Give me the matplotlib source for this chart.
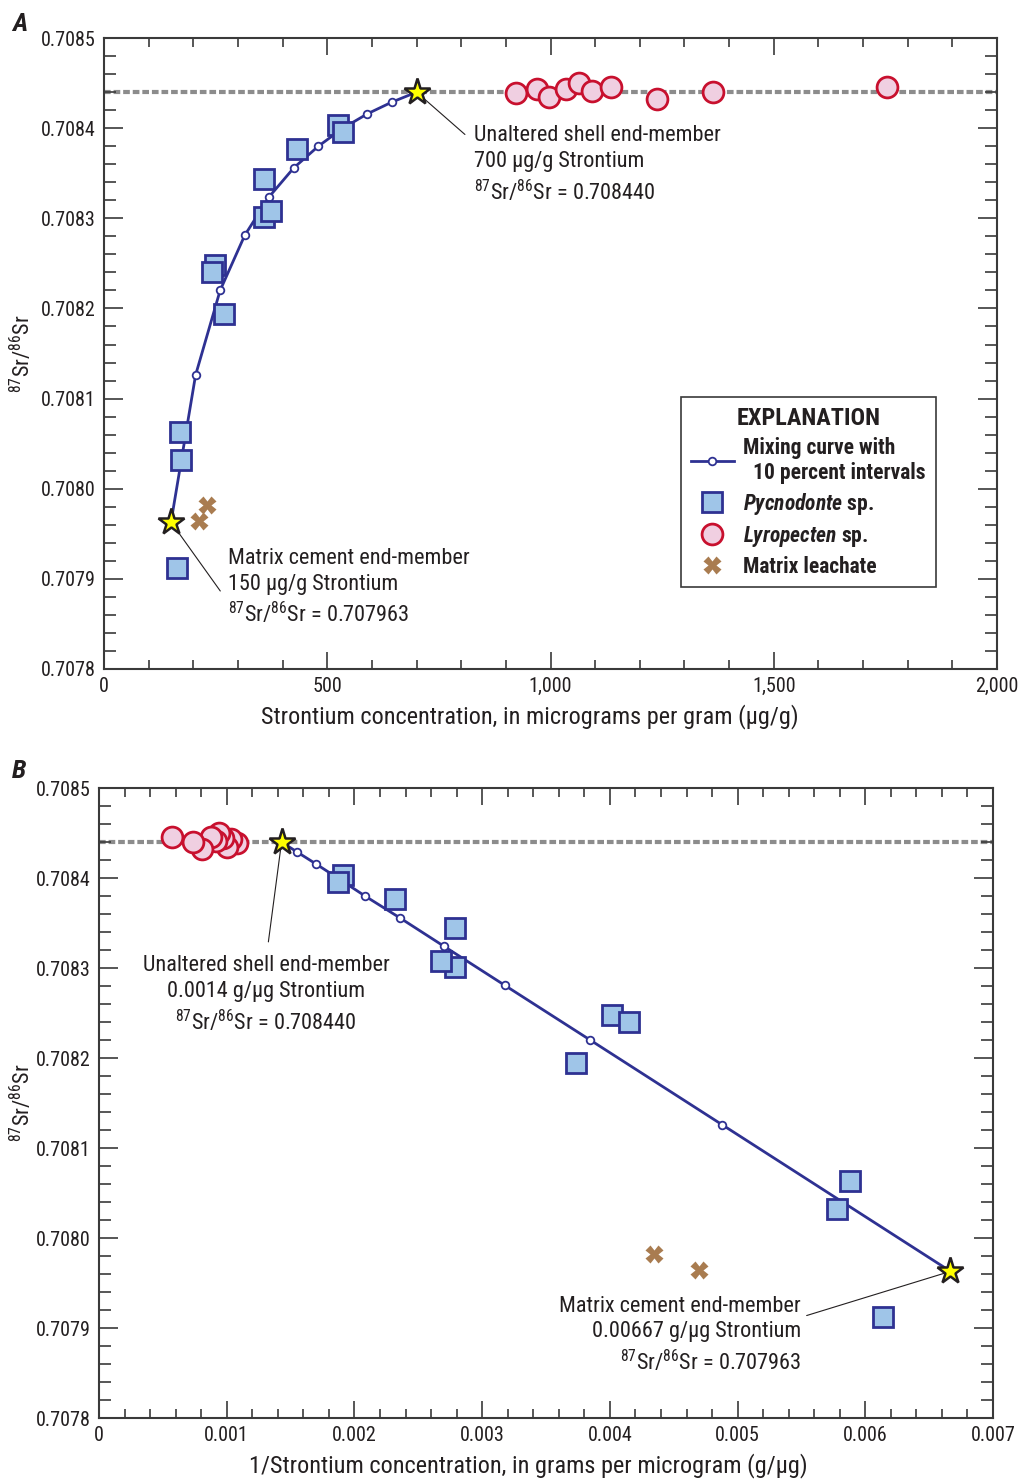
import matplotlib
matplotlib.use('Agg')
import matplotlib.pyplot as plt
from matplotlib.lines import Line2D
from matplotlib.ticker import MultipleLocator, FuncFormatter

# fonts
FONT = 'Roboto Condensed'
plt.rcParams['font.family'] = [FONT, 'Roboto', 'DejaVu Sans']
plt.rcParams['mathtext.fontset'] = 'custom'
plt.rcParams['mathtext.rm'] = FONT
plt.rcParams['mathtext.it'] = FONT + ':italic'
plt.rcParams['mathtext.bf'] = FONT + ':bold'
plt.rcParams['mathtext.bfit'] = FONT + ':italic:bold'

# ---- data ----
# end members: matrix cement, unaltered shell
end_conc = [150, 700]
end_inv = [0.006667, 0.001429]
end_ratio = [0.707963, 0.708440]
shell_ratio = 0.708440

# mixing curve, 10 percent intervals (matrix -> shell)
mix_conc = [150, 205, 260, 315, 370, 425, 480, 535, 590, 645, 700]
mix_inv = [0.006667, 0.004878, 0.003846, 0.003175, 0.002703, 0.002353,
           0.002083, 0.001869, 0.001695, 0.001550, 0.001429]
mix_ratio = [0.707963, 0.708126, 0.708220, 0.708281, 0.708324, 0.708356,
             0.708380, 0.708400, 0.708416, 0.708429, 0.708440]

# Pycnodonte sp.
pyc_conc = [524, 535, 432, 359, 359, 374, 249, 241, 268, 170, 173, 163]
pyc_inv = [0.001908, 0.001869, 0.002315, 0.002786, 0.002786, 0.002674,
           0.004016, 0.004149, 0.003731, 0.005882, 0.005780, 0.006135]
pyc_ratio = [0.708403, 0.708396, 0.708377, 0.708344, 0.708301, 0.708308,
             0.708248, 0.708240, 0.708194, 0.708063, 0.708032, 0.707912]

# Lyropecten sp.
lyr_conc = [923, 970, 997, 1034, 1064, 1092, 1136, 1239, 1364, 1754]
lyr_inv = [0.001083, 0.001031, 0.001003, 0.000967, 0.000940, 0.000916,
           0.000880, 0.000807, 0.000733, 0.000570]
lyr_ratio = [0.708439, 0.708443, 0.708435, 0.708444, 0.708450, 0.708441,
             0.708446, 0.708432, 0.708440, 0.708446]

# Matrix leachate
mat_conc = [230, 213]
mat_inv = [0.004348, 0.004695]
mat_ratio = [0.707982, 0.707964]

# ---- styles ----
TXT = '#231f20'
BLUE = '#2e3192'
SQ_FILL = '#9fc5e8'
CIR_FILL = '#f0cfe1'
CIR_EDGE = '#c8102e'
XCOL = '#a97c50'
sup = r'$^{87}$Sr/$^{86}$Sr'

fig = plt.figure(figsize=(10.19, 14.81), dpi=100)
axA = fig.add_axes([0.1021, 0.5483, 0.8763, 0.4260])
axB = fig.add_axes([0.0972, 0.0425, 0.8773, 0.4254])


def style_axis(ax, ylab_x):
    for s in ax.spines.values():
        s.set_color('#3a3a3a')
        s.set_linewidth(1.5)
    ax.tick_params(which='both', direction='in', top=True, right=True,
                   colors='#3a3a3a', labelcolor=TXT, labelsize=14.5, width=1.2)
    ax.tick_params(axis='y', which='major', length=14, pad=6)
    ax.tick_params(axis='y', which='minor', length=8.5)
    ax.tick_params(axis='x', which='major', length=12, pad=6)
    ax.tick_params(axis='x', which='minor', length=6.5)
    ax.set_ylim(0.7078, 0.7085)
    ax.yaxis.set_major_locator(MultipleLocator(0.0001))
    ax.yaxis.set_minor_locator(MultipleLocator(0.00002))
    ax.yaxis.set_major_formatter(FuncFormatter(lambda v, p: '%.4f' % v))
    ax.set_ylabel(sup, fontsize=16, color=TXT)
    ax.yaxis.set_label_coords(ylab_x, 0.5)
    ax.axhline(shell_ratio, color='#8c8c8c', lw=3, ls=(0, (1.6, 0.7)), zorder=1)


def draw_points(ax, mx, px, lx, ax_x, ex):
    ax.plot(mx, mix_ratio, color=BLUE, lw=2, marker='o', ms=5.5,
            mfc='white', mec=BLUE, mew=1.3, zorder=3)
    ax.plot(px, pyc_ratio, ls='none', marker='s', ms=14, mfc=SQ_FILL,
            mec=BLUE, mew=2, zorder=4)
    ax.plot(lx, lyr_ratio, ls='none', marker='o', ms=15, mfc=CIR_FILL,
            mec=CIR_EDGE, mew=2, zorder=4)
    ax.plot(ax_x, mat_ratio, ls='none', marker='X', ms=12.5, mfc=XCOL,
            mec='none', zorder=4)
    ax.plot(ex, end_ratio, ls='none', marker='*', ms=20, mfc='#ffff00',
            mec='#231f20', mew=1.8, zorder=6)


# ---- panel A ----
style_axis(axA, -0.077)
axA.set_xlim(0, 2000)
axA.xaxis.set_major_locator(MultipleLocator(500))
axA.xaxis.set_minor_locator(MultipleLocator(100))
axA.xaxis.set_major_formatter(FuncFormatter(lambda v, p: '{:,.0f}'.format(v)))
axA.set_xlabel('Strontium concentration, in micrograms per gram (\u00b5g/g)',
               fontsize=17.5, color=TXT)
axA.xaxis.set_label_coords(0.477, -0.055)
draw_points(axA, mix_conc, pyc_conc, lyr_conc, mat_conc, end_conc)

axA.annotate('', xy=(end_conc[1], end_ratio[1]), xytext=(813, 0.708391),
             arrowprops=dict(arrowstyle='-', lw=0.8, color=TXT), zorder=2)
axA.text(829, 0.708403, 'Unaltered shell end-member\n700 \u00b5g/g Strontium\n'
         + sup + ' = 0.708440', fontsize=16, color=TXT, va='top', ha='left',
         linespacing=1.3)
axA.annotate('', xy=(end_conc[0], end_ratio[0]), xytext=(264, 0.707884),
             arrowprops=dict(arrowstyle='-', lw=0.8, color=TXT), zorder=2)
axA.text(278, 0.707934, 'Matrix cement end-member\n150 \u00b5g/g Strontium\n'
         + sup + ' = 0.707963', fontsize=16, color=TXT, va='top', ha='left',
         linespacing=1.3)

handles = [
    Line2D([], [], color=BLUE, lw=2, marker='o', ms=5.5, mfc='white', mec=BLUE, mew=1.3),
    Line2D([], [], ls='none', marker='s', ms=14, mfc=SQ_FILL, mec=BLUE, mew=2),
    Line2D([], [], ls='none', marker='o', ms=15, mfc=CIR_FILL, mec=CIR_EDGE, mew=2),
    Line2D([], [], ls='none', marker='X', ms=12.5, mfc=XCOL, mec='none'),
]
labels = ['Mixing curve with\n  10 percent intervals',
          r'$\mathbfit{Pycnodonte}$ sp.',
          r'$\mathbfit{Lyropecten}$ sp.',
          'Matrix leachate']
leg = axA.legend(handles, labels, loc='upper left', bbox_to_anchor=(0.646, 0.431),
                 title='EXPLANATION', fancybox=False, edgecolor='#3a3a3a',
                 framealpha=1, prop={'weight': 'bold', 'size': 15.5},
                 title_fontproperties={'weight': 'bold', 'size': 17.5},
                 handlelength=2.0, handletextpad=0.45, labelspacing=0.32,
                 borderpad=0.45, borderaxespad=0)
leg.get_frame().set_linewidth(1.2)
for t in leg.get_texts():
    t.set_color(TXT)
leg.get_title().set_color(TXT)

# ---- panel B ----
style_axis(axB, -0.071)
axB.set_xlim(0, 0.007)
axB.xaxis.set_major_locator(MultipleLocator(0.001))
axB.xaxis.set_minor_locator(MultipleLocator(0.0002))
axB.xaxis.set_major_formatter(FuncFormatter(lambda v, p: '0' if abs(v) < 1e-12 else '%g' % v))
axB.set_xlabel('1/Strontium concentration, in grams per microgram (g/\u00b5g)',
               fontsize=17.5, color=TXT)
axB.xaxis.set_label_coords(0.480, -0.055)
draw_points(axB, mix_inv, pyc_inv, lyr_inv, mat_inv, end_inv)

axB.annotate('', xy=(end_inv[1], end_ratio[1]), xytext=(0.001323, 0.708326),
             arrowprops=dict(arrowstyle='-', lw=0.8, color=TXT), zorder=2)
axB.text(0.001308, 0.708314, 'Unaltered shell end-member\n0.0014 g/\u00b5g Strontium\n'
         + sup + ' = 0.708440', fontsize=16, color=TXT, va='top', ha='center',
         multialignment='center', linespacing=1.3)
axB.annotate('', xy=(end_inv[0], end_ratio[0]), xytext=(0.00552, 0.707913),
             arrowprops=dict(arrowstyle='-', lw=0.8, color=TXT), zorder=2)
axB.text(0.005497, 0.707936, 'Matrix cement end-member\n0.00667 g/\u00b5g Strontium\n'
         + sup + ' = 0.707963', fontsize=16, color=TXT, va='top', ha='right',
         multialignment='right', linespacing=1.3)

fig.text(0.012, 0.979, 'A', fontsize=19, fontweight='bold', fontstyle='italic', color=TXT)
fig.text(0.012, 0.475, 'B', fontsize=19, fontweight='bold', fontstyle='italic', color=TXT)

fig.savefig('out.png', dpi=100)
